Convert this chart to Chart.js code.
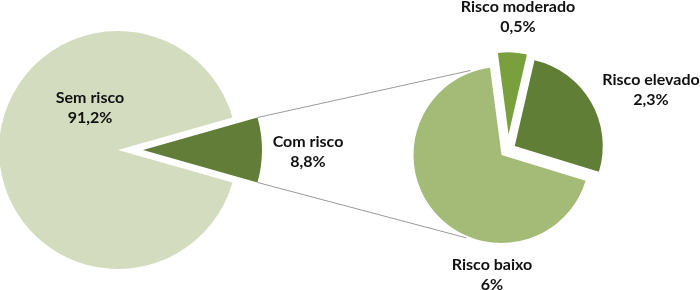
<!DOCTYPE html>
<html>
<head>
<meta charset="utf-8">
<script src="https://cdn.jsdelivr.net/npm/chart.js@4.4.0/dist/chart.umd.min.js"></script>
<style>
  html, body { margin: 0; padding: 0; background: #fff; }
  #wrap { position: relative; width: 700px; height: 290px; }
  #wrap canvas { position: absolute; left: 0; top: 0; }
</style>
</head>
<body>
<div id="wrap">
  <canvas id="mainPie" width="700" height="290"></canvas>
  <canvas id="subPie" width="700" height="290"></canvas>
</div>
<script>
// main pie
const mainLabels = ["Com risco", "Sem risco"];
const mainValues = [8.8, 91.2];
const mainText = ["8,8%", "91,2%"];
const mainColors = ["#627d38", "#d3dcbf"];

// second pie (breakdown of "Com risco")
const subLabels = ["Risco moderado", "Risco elevado", "Risco baixo"];
const subValues = [0.5, 2.3, 6];
const subText = ["0,5%", "2,3%", "6%"];
const subColors = ["#79a03c", "#617e37", "#a3bb76"];

// label anchors (baseline of the first text line)
const mainLabelPos = [[308, 147], [90, 103]];
const subLabelPos = [[518, 12], [651, 85], [492, 270]];

const FONT = "bold 16px Lato, 'Open Sans', sans-serif";

// draws each arc itself so an exploded slice keeps its radius and angle
// shift = px pulled out, turn = extra degrees on the pull direction, scale = radius factor
const explodePlugin = {
  id: "explode",
  beforeDatasetDraw(chart, args, opts) {
    const ctx = chart.ctx;
    args.meta.data.forEach((arc, i) => {
      const d = (opts.shift || [])[i] || 0;
      const turn = ((opts.turn || [])[i] || 0) * Math.PI / 180;
      const k = (opts.scale || [])[i] || 1;
      const mid = (arc.startAngle + arc.endAngle) / 2 + turn;
      ctx.save();
      ctx.translate(arc.x + Math.cos(mid) * d, arc.y + Math.sin(mid) * d);
      ctx.scale(k, k);
      ctx.translate(-arc.x, -arc.y);
      arc.draw(ctx);
      ctx.restore();
    });
    return false;
  }
};

const labelPlugin = {
  id: "pieLabels",
  afterDraw(chart, args, opts) {
    const ctx = chart.ctx;
    ctx.save();
    ctx.font = FONT;
    ctx.fillStyle = "#111";
    ctx.textAlign = "center";
    ctx.textBaseline = "alphabetic";
    opts.names.forEach((name, i) => {
      const [x, y] = opts.pos[i];
      ctx.fillText(name, x, y);
      ctx.fillText(opts.values[i], x, y + 20);
    });
    ctx.restore();
  }
};

function pieOptions(pad, radius, rotation, explode, names, values, pos) {
  return {
    responsive: false,
    devicePixelRatio: 1,
    animation: false,
    rotation: rotation,
    radius: radius,
    layout: { padding: pad },
    elements: { arc: { borderWidth: 0 } },
    plugins: {
      legend: { display: false },
      tooltip: { enabled: false },
      explode: explode,
      pieLabels: { names: names, values: values, pos: pos }
    }
  };
}

// "Com risco" slice centred on the right side
const mainRotation = 90 - mainValues[0] / 100 * 360 / 2;
const mainChart = new Chart(document.getElementById("mainPie"), {
  type: "pie",
  data: {
    labels: mainLabels,
    datasets: [{ data: mainValues, backgroundColor: mainColors }]
  },
  options: pieOptions({ left: 0, right: 464, top: 10, bottom: 0 }, 119, mainRotation,
    { shift: [25, 0] }, mainLabels, mainText, mainLabelPos),
  plugins: [explodePlugin, labelPlugin]
});

// grey lines from the "Com risco" slice to the second pie
const connectorPlugin = {
  id: "connectors",
  beforeDraw(chart) {
    const ctx = chart.ctx;
    const slice = mainChart.getDatasetMeta(0).data[0];
    const shift = mainChart.options.plugins.explode.shift[0];
    const mid = (slice.startAngle + slice.endAngle) / 2;
    const sx = slice.x + Math.cos(mid) * shift;
    const sy = slice.y + Math.sin(mid) * shift;
    const r = slice.outerRadius;
    const sub = chart.getDatasetMeta(0).data[2];
    const rr = sub.outerRadius + 2;
    const ends = [[slice.startAngle, -110], [slice.endAngle, 113]];
    ctx.save();
    ctx.strokeStyle = "#9a9a9a";
    ctx.lineWidth = 1;
    ends.forEach(([a, deg]) => {
      const b = deg * Math.PI / 180;
      ctx.beginPath();
      ctx.moveTo(sx + Math.cos(a) * r, sy + Math.sin(a) * r);
      ctx.lineTo(sub.x + Math.cos(b) * rr, sub.y + Math.sin(b) * rr);
      ctx.stroke();
    });
    ctx.restore();
  }
};

new Chart(document.getElementById("subPie"), {
  type: "pie",
  data: {
    labels: subLabels,
    datasets: [{ data: subValues, backgroundColor: subColors }]
  },
  options: pieOptions({ left: 303, right: 0, top: 20, bottom: 0 }, 88, -7.5,
    { shift: [22, 16, 0], turn: [16, -4, 0], scale: [0.93, 1, 1] },
    subLabels, subText, subLabelPos),
  plugins: [connectorPlugin, explodePlugin, labelPlugin]
});
</script>
</body>
</html>
